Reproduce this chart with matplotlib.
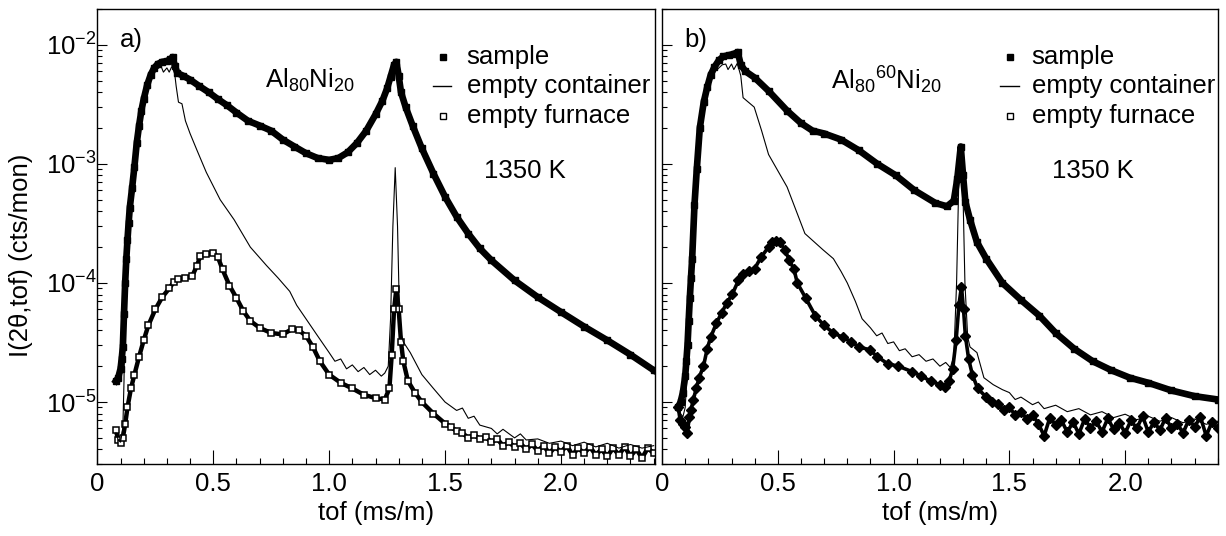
import matplotlib.pyplot as plt
from matplotlib.ticker import LogLocator, NullFormatter

plt.rcParams['font.family'] = ['Liberation Sans', 'DejaVu Sans']
plt.rcParams['mathtext.fontset'] = 'custom'
plt.rcParams['mathtext.rm'] = 'Liberation Sans'
plt.rcParams['mathtext.it'] = 'Liberation Sans:italic'
plt.rcParams['mathtext.default'] = 'regular'
plt.rcParams['axes.unicode_minus'] = False

# ---- panel a) Al80Ni20 ----
tof_a_sample = [0.080, 0.090, 0.100, 0.105, 0.110, 0.115, 0.120, 0.125, 0.130, 0.135,
                0.140, 0.150, 0.160, 0.170, 0.180, 0.190, 0.200, 0.215, 0.230, 0.245,
                0.260, 0.280, 0.300, 0.315, 0.325, 0.335, 0.345, 0.370, 0.400, 0.440,
                0.480, 0.520, 0.560, 0.600, 0.650, 0.700, 0.750, 0.800, 0.850, 0.900,
                0.950, 1.000, 1.040, 1.080, 1.120, 1.160, 1.200, 1.230, 1.250, 1.265,
                1.280, 1.290, 1.300, 1.310, 1.330, 1.360, 1.400, 1.450, 1.500, 1.550,
                1.600, 1.650, 1.700, 1.800, 1.900, 2.000, 2.100, 2.200, 2.300, 2.400]
int_a_sample = [1.5e-5, 1.6e-5, 1.9e-5, 2.3e-5, 2.9e-5, 5.5e-5, 1.0e-4, 1.6e-4, 2.3e-4, 3.2e-4,
                4.3e-4, 6.3e-4, 9.5e-4, 1.5e-3, 2.1e-3, 2.8e-3, 3.5e-3, 4.6e-3, 5.6e-3, 6.4e-3,
                6.9e-3, 7.2e-3, 7.3e-3, 7.6e-3, 7.9e-3, 6.6e-3, 5.8e-3, 5.5e-3, 5.1e-3, 4.5e-3,
                4.0e-3, 3.5e-3, 3.1e-3, 2.7e-3, 2.3e-3, 2.1e-3, 1.9e-3, 1.6e-3, 1.4e-3, 1.23e-3,
                1.12e-3, 1.08e-3, 1.12e-3, 1.25e-3, 1.5e-3, 1.9e-3, 2.6e-3, 3.4e-3, 4.3e-3, 5.4e-3,
                6.8e-3, 7.2e-3, 5.5e-3, 4.0e-3, 3.0e-3, 2.1e-3, 1.35e-3, 8.3e-4, 5.3e-4, 3.6e-4,
                2.6e-4, 1.95e-4, 1.55e-4, 1.05e-4, 7.6e-5, 5.7e-5, 4.3e-5, 3.3e-5, 2.5e-5, 1.85e-5]

tof_a_container = [0.080, 0.090, 0.100, 0.110, 0.115, 0.120, 0.130, 0.140, 0.160, 0.180,
                   0.200, 0.230, 0.260, 0.275, 0.285, 0.300, 0.310, 0.320, 0.330, 0.340,
                   0.350, 0.365, 0.380, 0.400, 0.430, 0.470, 0.530, 0.590, 0.660, 0.730,
                   0.780, 0.830, 0.860, 0.900, 0.950, 1.000, 1.025, 1.050, 1.075, 1.100,
                   1.125, 1.150, 1.175, 1.200, 1.225, 1.240, 1.255, 1.265, 1.275, 1.285,
                   1.295, 1.305, 1.320, 1.350, 1.400, 1.450, 1.500, 1.550, 1.575, 1.600,
                   1.625, 1.650, 1.700, 1.725, 1.750, 1.800, 1.825, 1.850, 1.900, 1.950,
                   2.000, 2.050, 2.100, 2.150, 2.200, 2.250, 2.300, 2.350, 2.400]
int_a_container = [5.5e-6, 4.8e-6, 4.6e-6, 6.0e-6, 1.5e-5, 9.0e-5, 2.2e-4, 4.2e-4, 9.3e-4, 2.0e-3,
                   3.4e-3, 5.4e-3, 6.3e-3, 6.6e-3, 5.9e-3, 6.4e-3, 5.9e-3, 6.5e-3, 6.6e-3, 4.5e-3,
                   3.3e-3, 3.2e-3, 2.3e-3, 1.8e-3, 1.3e-3, 8.5e-4, 5.0e-4, 3.4e-4, 2.0e-4, 1.4e-4,
                   1.1e-4, 8.5e-5, 6.5e-5, 5.0e-5, 3.6e-5, 2.6e-5, 2.2e-5, 2.3e-5, 1.9e-5, 2.05e-5,
                   1.8e-5, 1.95e-5, 1.7e-5, 1.85e-5, 1.65e-5, 1.75e-5, 2.0e-5, 5.0e-5, 3.0e-4, 9.3e-4,
                   3.0e-4, 4.0e-5, 3.2e-5, 2.6e-5, 1.7e-5, 1.3e-5, 1.0e-5, 8.5e-6, 8.9e-6, 7.3e-6,
                   7.6e-6, 6.4e-6, 6.0e-6, 5.4e-6, 5.9e-6, 5.0e-6, 5.4e-6, 4.8e-6, 4.9e-6, 4.5e-6,
                   4.7e-6, 4.3e-6, 4.6e-6, 4.2e-6, 4.5e-6, 4.1e-6, 4.4e-6, 4.1e-6, 4.3e-6]

tof_a_furnace = [0.080, 0.090, 0.100, 0.110, 0.120, 0.130, 0.145, 0.160, 0.180, 0.200,
                 0.220, 0.250, 0.280, 0.310, 0.330, 0.350, 0.380, 0.410, 0.430, 0.445,
                 0.470, 0.500, 0.520, 0.540, 0.570, 0.600, 0.630, 0.660, 0.700, 0.750,
                 0.800, 0.840, 0.870, 0.900, 0.930, 0.960, 1.000, 1.050, 1.100, 1.150,
                 1.200, 1.240, 1.260, 1.270, 1.280, 1.290, 1.300, 1.310, 1.320, 1.340,
                 1.370, 1.400, 1.450, 1.500, 1.525, 1.550, 1.575, 1.600, 1.625, 1.650,
                 1.675, 1.700, 1.725, 1.750, 1.775, 1.800, 1.825, 1.850, 1.875, 1.900,
                 1.925, 1.950, 1.975, 2.000, 2.025, 2.050, 2.075, 2.100, 2.125, 2.150,
                 2.175, 2.200, 2.225, 2.250, 2.275, 2.300, 2.325, 2.350, 2.375, 2.400]
int_a_furnace = [5.8e-6, 4.8e-6, 4.5e-6, 5.0e-6, 6.5e-6, 9.0e-6, 1.3e-5, 1.7e-5, 2.4e-5, 3.3e-5,
                 4.4e-5, 6.0e-5, 7.6e-5, 9.0e-5, 1.02e-4, 1.08e-4, 1.1e-4, 1.15e-4, 1.4e-4, 1.7e-4,
                 1.75e-4, 1.8e-4, 1.65e-4, 1.3e-4, 9.5e-5, 7.5e-5, 5.8e-5, 4.8e-5, 4.2e-5, 3.8e-5,
                 3.7e-5, 4.1e-5, 4.0e-5, 3.6e-5, 2.9e-5, 2.2e-5, 1.7e-5, 1.45e-5, 1.3e-5, 1.15e-5,
                 1.08e-5, 1.05e-5, 1.3e-5, 2.5e-5, 6.0e-5, 8.9e-5, 6.0e-5, 3.2e-5, 2.2e-5, 1.5e-5,
                 1.2e-5, 1.0e-5, 8.0e-6, 6.6e-6, 6.2e-6, 5.7e-6, 5.5e-6, 5.0e-6, 5.3e-6, 4.9e-6,
                 5.1e-6, 4.6e-6, 4.9e-6, 4.3e-6, 4.6e-6, 4.2e-6, 4.5e-6, 4.0e-6, 4.4e-6, 3.9e-6,
                 4.3e-6, 3.7e-6, 4.2e-6, 3.8e-6, 4.3e-6, 3.6e-6, 4.1e-6, 3.7e-6, 4.2e-6, 3.6e-6,
                 4.0e-6, 3.5e-6, 4.1e-6, 3.6e-6, 4.2e-6, 3.5e-6, 4.0e-6, 3.4e-6, 4.1e-6, 3.7e-6]

# ---- panel b) Al80 60Ni20 ----
tof_b_sample = [0.070, 0.080, 0.090, 0.100, 0.105, 0.110, 0.115, 0.120, 0.125, 0.130,
                0.140, 0.150, 0.163, 0.180, 0.195, 0.210, 0.226, 0.245, 0.265, 0.290,
                0.310, 0.327, 0.340, 0.360, 0.400, 0.460, 0.540, 0.600, 0.650, 0.700,
                0.773, 0.850, 0.930, 1.010, 1.090, 1.180, 1.230, 1.260, 1.275, 1.290,
                1.300, 1.310, 1.330, 1.360, 1.400, 1.470, 1.550, 1.630, 1.700, 1.780,
                1.860, 1.940, 2.020, 2.100, 2.200, 2.300, 2.400]
int_b_sample = [9.1e-6, 1.0e-5, 1.2e-5, 1.65e-5, 2.2e-5, 3.0e-5, 4.8e-5, 7.5e-5, 1.1e-4, 1.6e-4,
                4.5e-4, 9.0e-4, 2.0e-3, 3.3e-3, 4.4e-3, 5.6e-3, 6.5e-3, 7.4e-3, 8.0e-3, 8.2e-3,
                8.4e-3, 8.7e-3, 6.8e-3, 6.0e-3, 5.3e-3, 4.1e-3, 2.8e-3, 2.2e-3, 1.9e-3, 1.8e-3,
                1.6e-3, 1.3e-3, 1.0e-3, 8.0e-4, 6.0e-4, 4.7e-4, 4.4e-4, 4.9e-4, 7.5e-4, 1.4e-3,
                8.0e-4, 4.8e-4, 3.4e-4, 2.2e-4, 1.6e-4, 1.0e-4, 7.2e-5, 5.3e-5, 3.8e-5, 2.8e-5,
                2.2e-5, 1.85e-5, 1.6e-5, 1.45e-5, 1.25e-5, 1.12e-5, 1.05e-5]

tof_b_container = [0.070, 0.080, 0.090, 0.100, 0.110, 0.120, 0.130, 0.140, 0.150, 0.163,
                   0.180, 0.200, 0.230, 0.260, 0.275, 0.285, 0.300, 0.310, 0.325, 0.340,
                   0.350, 0.365, 0.398, 0.430, 0.460, 0.540, 0.617, 0.695, 0.740, 0.773,
                   0.800, 0.835, 0.864, 0.900, 0.927, 0.950, 0.975, 1.000, 1.025, 1.050,
                   1.080, 1.110, 1.140, 1.170, 1.200, 1.225, 1.245, 1.260, 1.272, 1.282,
                   1.290, 1.298, 1.308, 1.320, 1.330, 1.360, 1.390, 1.430, 1.470, 1.500,
                   1.525, 1.550, 1.600, 1.625, 1.650, 1.700, 1.750, 1.800, 1.850, 1.900,
                   1.950, 2.000, 2.050, 2.100, 2.150, 2.200, 2.250, 2.300, 2.350, 2.400]
int_b_container = [1.0e-5, 8.0e-6, 7.5e-6, 9.0e-6, 2.0e-5, 7.5e-5, 1.6e-4, 4.4e-4, 8.8e-4, 1.95e-3,
                   3.2e-3, 4.6e-3, 6.0e-3, 6.8e-3, 6.9e-3, 6.2e-3, 6.9e-3, 6.2e-3, 7.0e-3, 5.5e-3,
                   3.6e-3, 3.4e-3, 3.0e-3, 1.9e-3, 1.2e-3, 6.4e-4, 2.6e-4, 1.9e-4, 1.6e-4, 1.25e-4,
                   1.0e-4, 7.0e-5, 5.0e-5, 4.2e-5, 3.6e-5, 3.8e-5, 3.1e-5, 3.2e-5, 2.7e-5, 2.8e-5,
                   2.4e-5, 2.5e-5, 2.2e-5, 2.3e-5, 2.0e-5, 2.15e-5, 1.95e-5, 2.4e-5, 1.0e-4, 8.0e-4,
                   1.35e-3, 8.0e-4, 1.0e-4, 3.5e-5, 2.9e-5, 2.6e-5, 1.6e-5, 1.4e-5, 1.27e-5, 1.2e-5,
                   1.05e-5, 1.1e-5, 9.5e-6, 1.0e-5, 8.8e-6, 9.4e-6, 8.3e-6, 8.8e-6, 7.8e-6, 8.3e-6,
                   7.4e-6, 7.9e-6, 7.1e-6, 7.6e-6, 6.9e-6, 7.4e-6, 6.7e-6, 7.2e-6, 6.5e-6, 6.9e-6]

tof_b_furnace = [0.070, 0.078, 0.090, 0.100, 0.109, 0.118, 0.125, 0.135, 0.148, 0.160,
                 0.179, 0.195, 0.210, 0.235, 0.257, 0.280, 0.304, 0.330, 0.350, 0.375,
                 0.400, 0.428, 0.460, 0.475, 0.490, 0.510, 0.530, 0.550, 0.570, 0.584,
                 0.620, 0.662, 0.700, 0.740, 0.780, 0.818, 0.850, 0.896, 0.930, 0.974,
                 1.020, 1.080, 1.120, 1.160, 1.200, 1.220, 1.240, 1.255, 1.270, 1.282,
                 1.293, 1.302, 1.310, 1.324, 1.340, 1.363, 1.400, 1.425, 1.450, 1.475,
                 1.500, 1.525, 1.550, 1.575, 1.600, 1.625, 1.650, 1.675, 1.700, 1.725,
                 1.750, 1.775, 1.800, 1.825, 1.850, 1.875, 1.900, 1.925, 1.950, 1.975,
                 2.000, 2.025, 2.050, 2.075, 2.100, 2.125, 2.150, 2.175, 2.200, 2.225,
                 2.250, 2.275, 2.300, 2.325, 2.350, 2.375, 2.400]
int_b_furnace = [9.0e-6, 7.1e-6, 6.5e-6, 6.2e-6, 5.5e-6, 7.5e-6, 8.5e-6, 1.05e-5, 1.3e-5, 1.6e-5,
                 2.0e-5, 2.8e-5, 3.5e-5, 4.6e-5, 5.6e-5, 6.8e-5, 8.1e-5, 1.05e-4, 1.2e-4, 1.25e-4,
                 1.32e-4, 1.65e-4, 2.0e-4, 2.2e-4, 2.25e-4, 2.2e-4, 1.9e-4, 1.55e-4, 1.3e-4, 1.0e-4,
                 7.5e-5, 5.3e-5, 4.4e-5, 3.8e-5, 3.5e-5, 3.2e-5, 2.9e-5, 2.75e-5, 2.4e-5, 2.1e-5,
                 2.0e-5, 1.8e-5, 1.65e-5, 1.5e-5, 1.4e-5, 1.35e-5, 1.5e-5, 1.9e-5, 3.3e-5, 6.5e-5,
                 9.3e-5, 6.0e-5, 3.6e-5, 2.3e-5, 1.7e-5, 1.3e-5, 1.1e-5, 1.0e-5, 9.6e-6, 8.6e-6,
                 9.0e-6, 7.8e-6, 8.3e-6, 7.2e-6, 7.8e-6, 6.6e-6, 5.2e-6, 7.4e-6, 6.4e-6, 7.0e-6,
                 5.6e-6, 6.8e-6, 5.4e-6, 7.2e-6, 6.1e-6, 6.9e-6, 5.6e-6, 7.3e-6, 5.9e-6, 6.7e-6,
                 5.5e-6, 7.0e-6, 6.0e-6, 7.6e-6, 5.6e-6, 6.8e-6, 5.8e-6, 7.4e-6, 6.0e-6, 6.6e-6,
                 5.5e-6, 7.1e-6, 6.2e-6, 7.5e-6, 5.2e-6, 6.8e-6, 6.0e-6]

xtick_vals = [0, 0.5, 1.0, 1.5, 2.0]
xtick_labels = ['0', '0.5', '1.0', '1.5', '2.0']
legend_labels = ['sample', 'empty container', 'empty furnace']

FS = 18.5

fig = plt.figure(figsize=(12.26, 5.36), dpi=100)
ax_a = fig.add_axes([0.0794, 0.1338, 0.4549, 0.8494])
ax_b = fig.add_axes([0.5400, 0.1338, 0.4533, 0.8494])


def style_axes(ax, xmax, show_ylabels):
    ax.set_yscale('log')
    ax.set_xlim(0, xmax)
    ax.set_ylim(3.0e-6, 2.0e-2)
    ax.set_xticks(xtick_vals)
    ax.set_xticklabels(xtick_labels)
    ax.set_xticks([i / 10 for i in range(1, 25) if i % 5], minor=True)
    ax.yaxis.set_major_locator(LogLocator(base=10, numticks=10))
    ax.yaxis.set_minor_locator(LogLocator(base=10, subs=range(2, 10), numticks=20))
    ax.yaxis.set_minor_formatter(NullFormatter())
    ax.tick_params(axis='x', which='major', direction='in', length=10, width=0.8,
                   labelsize=FS, pad=5.5)
    ax.tick_params(axis='x', which='minor', direction='in', length=4.5, width=0.8)
    ax.tick_params(axis='y', which='major', direction='in', length=7, width=0.8,
                   labelsize=FS, pad=0.5)
    ax.tick_params(axis='y', which='minor', direction='in', length=3.6, width=0.8)
    if not show_ylabels:
        ax.tick_params(axis='y', which='both', labelleft=False)
    for sp in ax.spines.values():
        sp.set_linewidth(1.0)
    ax.set_xlabel('tof (ms/m)', fontsize=FS)


def draw_legend(ax, xm, xt):
    rows = [0.8946, 0.831, 0.765]
    ax.plot([xm], [rows[0]], 's', color='black', ms=5, transform=ax.transAxes)
    ax.plot([xm - 0.018, xm + 0.016], [rows[1], rows[1]], '-', color='black', lw=1,
            transform=ax.transAxes)
    ax.plot([xm], [rows[2]], 's', mfc='white', mec='black', ms=4, mew=1,
            transform=ax.transAxes)
    for y, lab in zip(rows, legend_labels):
        ax.text(xt, y, lab, transform=ax.transAxes, fontsize=FS, va='center', ha='left')


# panel a
ax = ax_a
ax.plot(tof_a_container, int_a_container, '-', color='black', lw=0.8, zorder=3)
ax.plot(tof_a_furnace, int_a_furnace, '-', color='black', lw=3.2, zorder=2)
ax.plot(tof_a_furnace, int_a_furnace, 's', mfc='white', mec='black', ms=4.2, mew=1.1,
        zorder=2)
ax.plot(tof_a_sample, int_a_sample, '-', color='black', lw=4.8, zorder=2)
ax.plot(tof_a_sample, int_a_sample, 's', color='black', ms=4.2, zorder=2)
style_axes(ax, 2.406, True)
ax.set_ylabel('I(2\u03b8,tof) (cts/mon)', fontsize=FS)
ax.yaxis.set_label_coords(-0.115, 0.46)
ax.text(0.0407, 0.932, 'a)', transform=ax.transAxes, fontsize=FS, va='center', ha='left')
ax.text(0.30, 0.844, r'Al$_{80}$Ni$_{20}$', transform=ax.transAxes, fontsize=FS,
        va='center', ha='left')
ax.text(0.767, 0.644, '1350 K', transform=ax.transAxes, fontsize=FS, va='center',
        ha='center')
draw_legend(ax, 0.619, 0.662)

# panel b
ax = ax_b
ax.plot(tof_b_container, int_b_container, '-', color='black', lw=0.8, zorder=3)
ax.plot(tof_b_furnace, int_b_furnace, '-', color='black', lw=2.6, zorder=2)
ax.plot(tof_b_furnace, int_b_furnace, 'D', color='black', ms=4.6, zorder=2)
ax.plot(tof_b_sample, int_b_sample, '-', color='black', lw=4.8, zorder=2)
ax.plot(tof_b_sample, int_b_sample, 's', color='black', ms=4.2, zorder=2)
style_axes(ax, 2.39, False)
ax.text(0.041, 0.932, 'b)', transform=ax.transAxes, fontsize=FS, va='center', ha='left')
ax.text(0.304, 0.844, r'Al$_{80}{}^{60}$Ni$_{20}$', transform=ax.transAxes, fontsize=FS,
        va='center', ha='left')
ax.text(0.776, 0.644, '1350 K', transform=ax.transAxes, fontsize=FS, va='center',
        ha='center')
draw_legend(ax, 0.626, 0.665)

fig.savefig('out.png', dpi=100)
